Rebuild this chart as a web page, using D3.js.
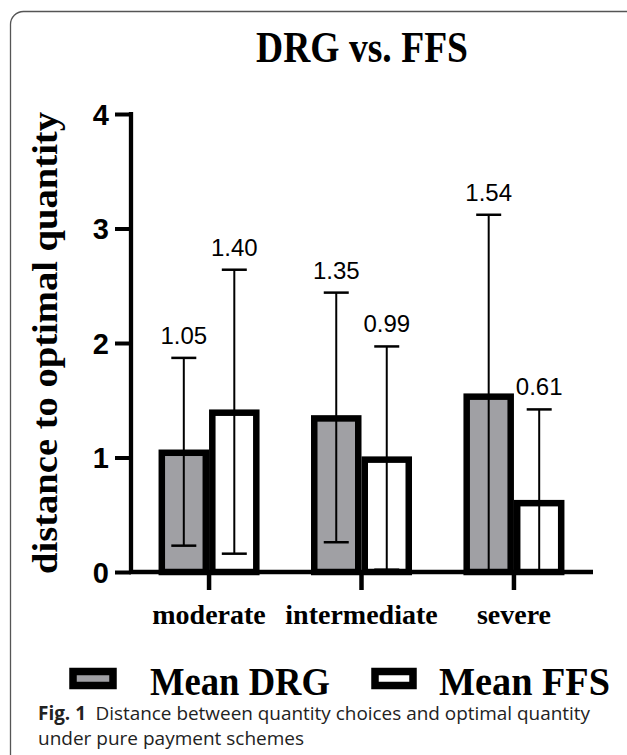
<!DOCTYPE html>
<html>
<head>
<meta charset="utf-8">
<script src="https://cdn.jsdelivr.net/npm/d3@7"></script>
<style>
  html, body { margin: 0; padding: 0; background: #fff; }
  svg { display: block; }
</style>
</head>
<body>
<svg id="chart" width="627" height="755"></svg>
<script>
// ---- data ----
const categories = ["moderate", "intermediate", "severe"];
const seriesNames = ["Mean DRG", "Mean FFS"];
const drgMeans = [1.05, 1.35, 1.54];
const ffsMeans = [1.40, 0.99, 0.61];
const drgErrLow = [0.23, 0.26, 0.00];
const drgErrHigh = [1.87, 2.44, 3.12];
const ffsErrLow = [0.16, 0.02, 0.00];
const ffsErrHigh = [2.64, 1.97, 1.42];
const drgLabels = ["1.05", "1.35", "1.54"];
const ffsLabels = ["1.40", "0.99", "0.61"];
const yTicks = [0, 1, 2, 3, 4];

const rows = [];
categories.forEach((c, i) => {
  rows.push({cat: c, series: "Mean DRG", v: drgMeans[i], lo: drgErrLow[i], hi: drgErrHigh[i], label: drgLabels[i]});
  rows.push({cat: c, series: "Mean FFS", v: ffsMeans[i], lo: ffsErrLow[i], hi: ffsErrHigh[i], label: ffsLabels[i]});
});

const fills = {"Mean DRG": "#a0a0a4", "Mean FFS": "#ffffff"};
const svg = d3.select("#chart");
const serif = "'Liberation Serif','Times New Roman',serif";
const sans = "'Liberation Sans',Arial,sans-serif";

// frame
svg.append("rect")
  .attr("x", 10.5).attr("y", 11.5)
  .attr("width", 640).attr("height", 760)
  .attr("rx", 13).attr("ry", 13)
  .attr("fill", "none").attr("stroke", "#555").attr("stroke-width", 1.3);

// scales
const x0 = d3.scaleBand().domain(categories).range([131, 592]).paddingInner(0).paddingOuter(0.012);
const x1 = d3.scaleBand().domain(seriesNames).range([-50.5, 50.5]).padding(0);
const y = d3.scaleLinear().domain([0, 4]).range([572, 114]);

// title
svg.append("text")
  .attr("x", 362).attr("y", 62)
  .attr("text-anchor", "middle")
  .attr("font-family", serif).attr("font-weight", "bold").attr("font-size", 45)
  .attr("textLength", 212).attr("lengthAdjust", "spacingAndGlyphs")
  .text("DRG vs. FFS");

// y axis label
svg.append("text")
  .attr("transform", "translate(57,343) rotate(-90)")
  .attr("text-anchor", "middle")
  .attr("font-family", serif).attr("font-weight", "bold").attr("font-size", 35)
  .attr("textLength", 462).attr("lengthAdjust", "spacingAndGlyphs")
  .text("distance to optimal quantity");

const sw = 6.5;
const cx = d => x0(d.cat) + x0.bandwidth() / 2;

// bars
svg.append("g").selectAll("rect").data(rows).join("rect")
  .attr("x", d => cx(d) + x1(d.series) + sw / 2)
  .attr("width", x1.bandwidth() - sw)
  .attr("y", d => y(d.v) + 1)
  .attr("height", d => y(0) - y(d.v) - 1)
  .attr("fill", d => fills[d.series])
  .attr("stroke", "#000").attr("stroke-width", sw);

// error bars
const eb = svg.append("g").attr("stroke", "#000").attr("stroke-width", 2);
rows.forEach(d => {
  const bx = cx(d) + x1(d.series) + x1.bandwidth() / 2;
  eb.append("line").attr("x1", bx).attr("x2", bx).attr("y1", y(d.hi)).attr("y2", y(d.lo));
  eb.append("line").attr("x1", bx - 12.5).attr("x2", bx + 12.5).attr("y1", y(d.hi)).attr("y2", y(d.hi)).attr("stroke-width", 2.5);
  eb.append("line").attr("x1", bx - 12.5).attr("x2", bx + 12.5).attr("y1", y(d.lo)).attr("y2", y(d.lo)).attr("stroke-width", 2.5);
});

// value labels
svg.append("g").selectAll("text").data(rows).join("text")
  .attr("x", d => cx(d) + x1(d.series) + x1.bandwidth() / 2)
  .attr("y", d => y(d.hi) - 14)
  .attr("text-anchor", "middle")
  .attr("font-family", sans).attr("font-size", 24)
  .text(d => d.label);

// y axis
const yAxis = svg.append("g").attr("transform", "translate(131,0)")
  .call(d3.axisLeft(y).tickValues(yTicks).tickFormat(d3.format("d")).tickSize(16).tickPadding(6));
yAxis.select(".domain").attr("d", `M0,${y(4) - 2}V${y(0)}`).attr("stroke-width", 4.3).attr("stroke", "#000");
yAxis.selectAll(".tick line").attr("stroke-width", 4).attr("stroke", "#000");
yAxis.selectAll(".tick text")
  .attr("font-family", sans).attr("font-weight", "bold").attr("font-size", 29).attr("fill", "#000")
  .attr("dy", "0.36em");

// x axis
const xAxis = svg.append("g").attr("transform", `translate(0,${y(0)})`)
  .call(d3.axisBottom(x0).tickSize(18).tickFormat(""));
xAxis.select(".domain").attr("d", `M129,0H593`).attr("stroke-width", 4.5).attr("stroke", "#000");
xAxis.selectAll(".tick line").attr("stroke-width", 4.5).attr("stroke", "#000");

// x labels
svg.append("g").selectAll("text").data(categories).join("text")
  .attr("x", d => x0(d) + x0.bandwidth() / 2)
  .attr("y", 624)
  .attr("text-anchor", "middle")
  .attr("font-family", serif).attr("font-weight", "bold").attr("font-size", 28)
  .text(d => d);

// legend
const legend = [
  {name: seriesNames[0], bx: 69, bw: 48, tx: 150, tw: 180},
  {name: seriesNames[1], bx: 371, bw: 46, tx: 439, tw: 171}
];
legend.forEach(l => {
  svg.append("rect").attr("x", l.bx + 4).attr("y", 671.5).attr("width", l.bw - 8).attr("height", 14)
    .attr("fill", fills[l.name]).attr("stroke", "#000").attr("stroke-width", 7.5);
  svg.append("text").attr("x", l.tx).attr("y", 695)
    .attr("font-family", serif).attr("font-weight", "bold").attr("font-size", 40)
    .attr("textLength", l.tw).attr("lengthAdjust", "spacingAndGlyphs")
    .text(l.name);
});

// caption
const capFont = "'Open Sans','Noto Sans',sans-serif";
const cap = svg.append("text").attr("x", 38).attr("y", 720)
  .attr("font-family", capFont).attr("font-size", 19).attr("fill", "#222")
  .attr("textLength", 552).attr("lengthAdjust", "spacingAndGlyphs");
cap.append("tspan").attr("font-weight", "bold").text("Fig. 1");
cap.append("tspan").text("\u2002Distance between quantity choices and optimal quantity");
svg.append("text").attr("x", 38).attr("y", 745)
  .attr("font-family", capFont).attr("font-size", 19).attr("fill", "#222")
  .text("under pure payment schemes");
</script>
</body>
</html>
